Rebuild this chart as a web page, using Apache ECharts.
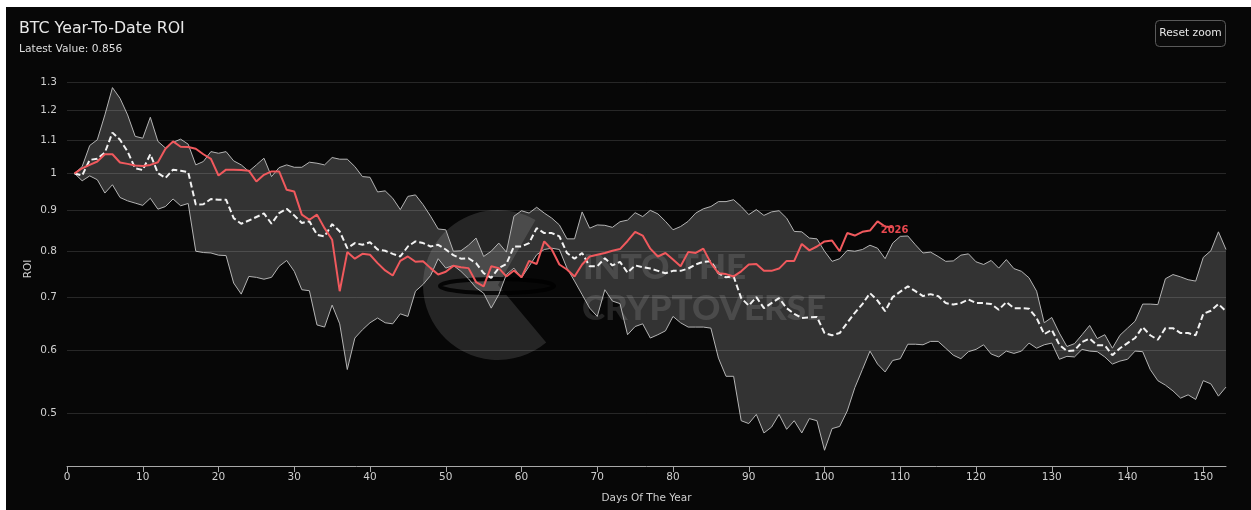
<!DOCTYPE html>
<html>
<head>
<meta charset="utf-8">
<title>BTC Year-To-Date ROI</title>
<script src="https://cdn.jsdelivr.net/npm/echarts@6/dist/echarts.min.js"></script>
<style>
  html, body { margin: 0; padding: 0; background: #ffffff; }
  #chart { position: absolute; left: 6px; top: 7px; width: 1245px; height: 503px; background: #070707; }
</style>
</head>
<body>
<div id="chart"></div>
<script>
// Day-of-year ROI relative to 1 January (log scale)
const FONT = '"DejaVu Sans", "Noto Sans", sans-serif';

// Historical range (upper / lower envelope) per day of year
const upperRange = [
  1.000, 1.020, 1.084, 1.102, 1.184, 1.281, 1.242, 1.184, 1.113, 1.107,
  1.176, 1.097, 1.076, 1.094, 1.104, 1.088, 1.025, 1.035, 1.065, 1.060,
  1.065, 1.037, 1.025, 1.006, 1.025, 1.045, 0.991, 1.017, 1.025, 1.018,
  1.018, 1.033, 1.030, 1.025, 1.047, 1.042, 1.042, 1.020, 0.991, 0.989,
  0.948, 0.951, 0.931, 0.901, 0.936, 0.940, 0.914, 0.884, 0.852, 0.850,
  0.799, 0.800, 0.813, 0.830, 0.787, 0.799, 0.818, 0.797, 0.884, 0.898,
  0.892, 0.907, 0.892, 0.879, 0.862, 0.828, 0.828, 0.895, 0.854, 0.862,
  0.861, 0.856, 0.870, 0.874, 0.893, 0.883, 0.899, 0.890, 0.871, 0.850,
  0.858, 0.871, 0.892, 0.903, 0.909, 0.922, 0.922, 0.927, 0.909, 0.888,
  0.901, 0.886, 0.895, 0.898, 0.879, 0.846, 0.845, 0.830, 0.828, 0.799,
  0.776, 0.782, 0.801, 0.799, 0.803, 0.813, 0.806, 0.782, 0.818, 0.834,
  0.835, 0.814, 0.795, 0.797, 0.787, 0.776, 0.777, 0.790, 0.793, 0.775,
  0.769, 0.778, 0.761, 0.780, 0.760, 0.754, 0.740, 0.712, 0.650, 0.660,
  0.631, 0.607, 0.612, 0.628, 0.645, 0.621, 0.628, 0.604, 0.627, 0.640,
  0.653, 0.686, 0.686, 0.685, 0.738, 0.747, 0.742, 0.736, 0.733, 0.785,
  0.800, 0.845, 0.803
];

const lowerRange = [
  1.000, 0.979, 0.993, 0.982, 0.945, 0.968, 0.933, 0.924, 0.918, 0.912,
  0.931, 0.902, 0.909, 0.929, 0.911, 0.917, 0.799, 0.796, 0.795, 0.790,
  0.789, 0.729, 0.706, 0.743, 0.741, 0.737, 0.741, 0.765, 0.778, 0.754,
  0.715, 0.713, 0.646, 0.642, 0.684, 0.648, 0.568, 0.622, 0.637, 0.650,
  0.659, 0.650, 0.648, 0.667, 0.662, 0.712, 0.726, 0.745, 0.782, 0.761,
  0.767, 0.754, 0.738, 0.719, 0.708, 0.678, 0.705, 0.747, 0.761, 0.740,
  0.765, 0.791, 0.803, 0.806, 0.803, 0.761, 0.733, 0.705, 0.678, 0.662,
  0.715, 0.692, 0.687, 0.628, 0.643, 0.648, 0.622, 0.628, 0.635, 0.662,
  0.650, 0.642, 0.642, 0.642, 0.640, 0.587, 0.557, 0.557, 0.490, 0.486,
  0.499, 0.473, 0.481, 0.499, 0.478, 0.490, 0.473, 0.493, 0.490, 0.450,
  0.479, 0.482, 0.504, 0.539, 0.568, 0.599, 0.577, 0.564, 0.583, 0.586,
  0.611, 0.611, 0.610, 0.616, 0.616, 0.604, 0.592, 0.586, 0.598, 0.602,
  0.610, 0.594, 0.589, 0.599, 0.595, 0.599, 0.613, 0.604, 0.610, 0.613,
  0.585, 0.590, 0.589, 0.602, 0.599, 0.598, 0.589, 0.577, 0.582, 0.585,
  0.599, 0.598, 0.568, 0.550, 0.543, 0.534, 0.523, 0.528, 0.521, 0.550,
  0.545, 0.526, 0.540
];

// Median path of past years
const medianRoi = [
  1.000, 0.994, 1.040, 1.043, 1.062, 1.125, 1.102, 1.065, 1.015, 1.010,
  1.057, 1.001, 0.987, 1.011, 1.008, 1.004, 0.914, 0.915, 0.929, 0.927,
  0.927, 0.879, 0.865, 0.873, 0.882, 0.891, 0.865, 0.892, 0.903, 0.886,
  0.867, 0.871, 0.838, 0.834, 0.864, 0.846, 0.806, 0.818, 0.814, 0.820,
  0.803, 0.800, 0.793, 0.787, 0.810, 0.822, 0.818, 0.810, 0.814, 0.803,
  0.790, 0.782, 0.783, 0.772, 0.750, 0.740, 0.761, 0.770, 0.810, 0.810,
  0.818, 0.854, 0.842, 0.842, 0.834, 0.795, 0.782, 0.795, 0.765, 0.765,
  0.783, 0.767, 0.775, 0.751, 0.767, 0.763, 0.760, 0.755, 0.750, 0.755,
  0.755, 0.760, 0.769, 0.775, 0.776, 0.750, 0.741, 0.743, 0.698, 0.683,
  0.700, 0.678, 0.688, 0.698, 0.678, 0.667, 0.659, 0.660, 0.661, 0.631,
  0.627, 0.631, 0.650, 0.669, 0.686, 0.708, 0.693, 0.672, 0.700, 0.711,
  0.722, 0.712, 0.702, 0.706, 0.702, 0.688, 0.685, 0.688, 0.695, 0.688,
  0.688, 0.686, 0.675, 0.690, 0.678, 0.678, 0.677, 0.659, 0.629, 0.637,
  0.610, 0.599, 0.600, 0.615, 0.621, 0.609, 0.609, 0.592, 0.604, 0.613,
  0.622, 0.642, 0.627, 0.619, 0.640, 0.640, 0.631, 0.631, 0.627, 0.667,
  0.673, 0.686, 0.672
];

// Current year
const roi2026 = [
  1.000, 1.015, 1.025, 1.035, 1.057, 1.057, 1.032, 1.028, 1.023, 1.022,
  1.025, 1.033, 1.074, 1.097, 1.080, 1.079, 1.074, 1.057, 1.043, 0.994,
  1.011, 1.011, 1.010, 1.008, 0.977, 0.996, 1.006, 1.006, 0.954, 0.949,
  0.888, 0.875, 0.888, 0.854, 0.826, 0.712, 0.797, 0.782, 0.793, 0.791,
  0.772, 0.756, 0.745, 0.777, 0.787, 0.775, 0.776, 0.761, 0.747, 0.753,
  0.766, 0.763, 0.761, 0.731, 0.722, 0.765, 0.761, 0.743, 0.756, 0.741,
  0.777, 0.770, 0.822, 0.803, 0.769, 0.758, 0.743, 0.769, 0.787, 0.791,
  0.795, 0.800, 0.804, 0.823, 0.845, 0.836, 0.805, 0.787, 0.795, 0.780,
  0.765, 0.797, 0.795, 0.805, 0.772, 0.750, 0.748, 0.743, 0.754, 0.769,
  0.770, 0.755, 0.755, 0.760, 0.777, 0.777, 0.816, 0.801, 0.810, 0.822,
  0.824, 0.799, 0.842, 0.836, 0.845, 0.848, 0.871, 0.858, 0.856
];

const yTicks = [0.5, 0.6, 0.7, 0.8, 0.9, 1, 1.1, 1.2, 1.3];
const xTicks = [0, 10, 20, 30, 40, 50, 60, 70, 80, 90, 100, 110, 120, 130, 140, 150];

const days = upperRange.map((_, i) => i + 1);
const pairs = arr => arr.map((v, i) => [days[i], v]);
const latest = roi2026[roi2026.length - 1];

const chart = echarts.init(document.getElementById('chart'), null, { renderer: 'canvas' });

const WM = 'rgba(255,255,255,0.12)';
const WM_FONT = '900 35px Lato, "Open Sans", sans-serif';

chart.setOption({
  animation: false,
  backgroundColor: '#070707',
  textStyle: { fontFamily: FONT },
  title: {
    text: 'BTC Year-To-Date ROI',
    subtext: 'Latest Value: ' + latest.toFixed(3),
    left: 13, top: 12, itemGap: 3, padding: 0,
    textStyle: { color: '#e8e8e8', fontSize: 15.8, fontWeight: 'normal', fontFamily: FONT, lineHeight: 20 },
    subtextStyle: { color: '#dedede', fontSize: 10.7, fontFamily: FONT, lineHeight: 14 }
  },
  grid: { left: 61, right: 25, top: 65, bottom: 44, containLabel: false },
  xAxis: {
    type: 'value', min: 0, max: 153,
    name: 'Days Of The Year', nameLocation: 'middle', nameGap: 27,
    nameTextStyle: { color: '#cfcfcf', fontSize: 10.5, fontFamily: FONT },
    axisLine: { show: true, lineStyle: { color: '#a8a8a8', width: 1 } },
    axisTick: { show: true, length: 6, customValues: xTicks, lineStyle: { color: '#a8a8a8' } },
    axisLabel: { customValues: xTicks, color: '#cfcfcf', fontSize: 10.5, margin: 6, fontFamily: FONT },
    splitLine: { show: false }
  },
  yAxis: {
    type: 'log', logBase: 10, min: 0.43, max: 1.34,
    name: 'ROI', nameLocation: 'middle', nameGap: 33, nameRotate: 90,
    nameTextStyle: { color: '#cfcfcf', fontSize: 10.5, fontFamily: FONT },
    axisLine: { show: false }, axisTick: { show: false },
    axisLabel: { show: false }, splitLine: { show: false }
  },
  graphic: [
    // watermark disc with an open wedge, drawn over the range band
    { type: 'sector', z: 2, silent: true,
      shape: { cx: 492, cy: 278, r: 75, r0: 0, startAngle: Math.PI * 50 / 180, endAngle: Math.PI * 300 / 180, clockwise: true },
      style: { fill: WM } },
    { type: 'ellipse', z: 2, silent: true,
      shape: { cx: 491, cy: 279, rx: 57, ry: 7 },
      style: { fill: 'none', stroke: 'rgba(0,0,0,0.85)', lineWidth: 4 } },
    { type: 'text', z: 2, silent: true, x: 577, y: 243,
      style: { text: 'INTO THE', fill: WM, font: WM_FONT } },
    { type: 'text', z: 2, silent: true, x: 576, y: 284,
      style: { text: 'CRYPTOVERSE', fill: WM, font: WM_FONT } },
    // zoom reset button
    { type: 'rect', z: 10, silent: true,
      shape: { x: 1149.5, y: 13.5, width: 70, height: 26, r: 4 },
      style: { fill: '#0b0b0b', stroke: '#5a5a5a', lineWidth: 1 } },
    { type: 'text', z: 11, silent: true, x: 1184.5, y: 26.5,
      style: { text: 'Reset zoom', fill: '#e6e6e6', font: '10.7px ' + FONT, align: 'center', verticalAlign: 'middle' } }
  ],
  series: [
    {
      name: 'Range', type: 'custom', z: 1, silent: true,
      data: days.map((d, i) => [d, lowerRange[i], upperRange[i]]),
      encode: { x: 0, y: [1, 2] },
      renderItem: function (params, api) {
        if (params.dataIndex !== 0) return null;
        const top = days.map((d, i) => api.coord([d, upperRange[i]]));
        const bottom = days.map((d, i) => api.coord([d, lowerRange[i]])).reverse();
        return { type: 'polygon', shape: { points: top.concat(bottom) }, style: { fill: '#333333' } };
      }
    },
    {
      name: 'Upper', type: 'line', z: 3, data: pairs(upperRange), showSymbol: false, silent: true,
      lineStyle: { color: '#b4b4b4', width: 1 }
    },
    {
      name: 'Lower', type: 'line', z: 3, data: pairs(lowerRange), showSymbol: false, silent: true,
      lineStyle: { color: '#b4b4b4', width: 1 },
      markLine: {
        silent: true, symbol: ['none', 'none'], animation: false,
        lineStyle: { color: 'rgba(255,255,255,0.13)', width: 1, type: 'solid' },
        label: {
          position: 'start', distance: 10, color: '#cfcfcf', fontSize: 10.5, fontFamily: FONT,
          formatter: p => String(p.value)
        },
        data: yTicks.map(v => ({ yAxis: v }))
      }
    },
    {
      name: 'Median', type: 'line', z: 4, data: pairs(medianRoi), showSymbol: false, silent: true,
      lineStyle: { color: '#f2f2f2', width: 2, type: [6, 3] }
    },
    {
      name: '2026', type: 'line', z: 5, data: pairs(roi2026), showSymbol: false, silent: true,
      lineStyle: { color: '#f0595d', width: 2 },
      endLabel: {
        show: true, formatter: '2026', distance: 0, offset: [-12, 3],
        color: '#e8484f', fontSize: 10, fontWeight: 'bold', fontFamily: FONT
      }
    }
  ]
});
</script>
</body>
</html>
